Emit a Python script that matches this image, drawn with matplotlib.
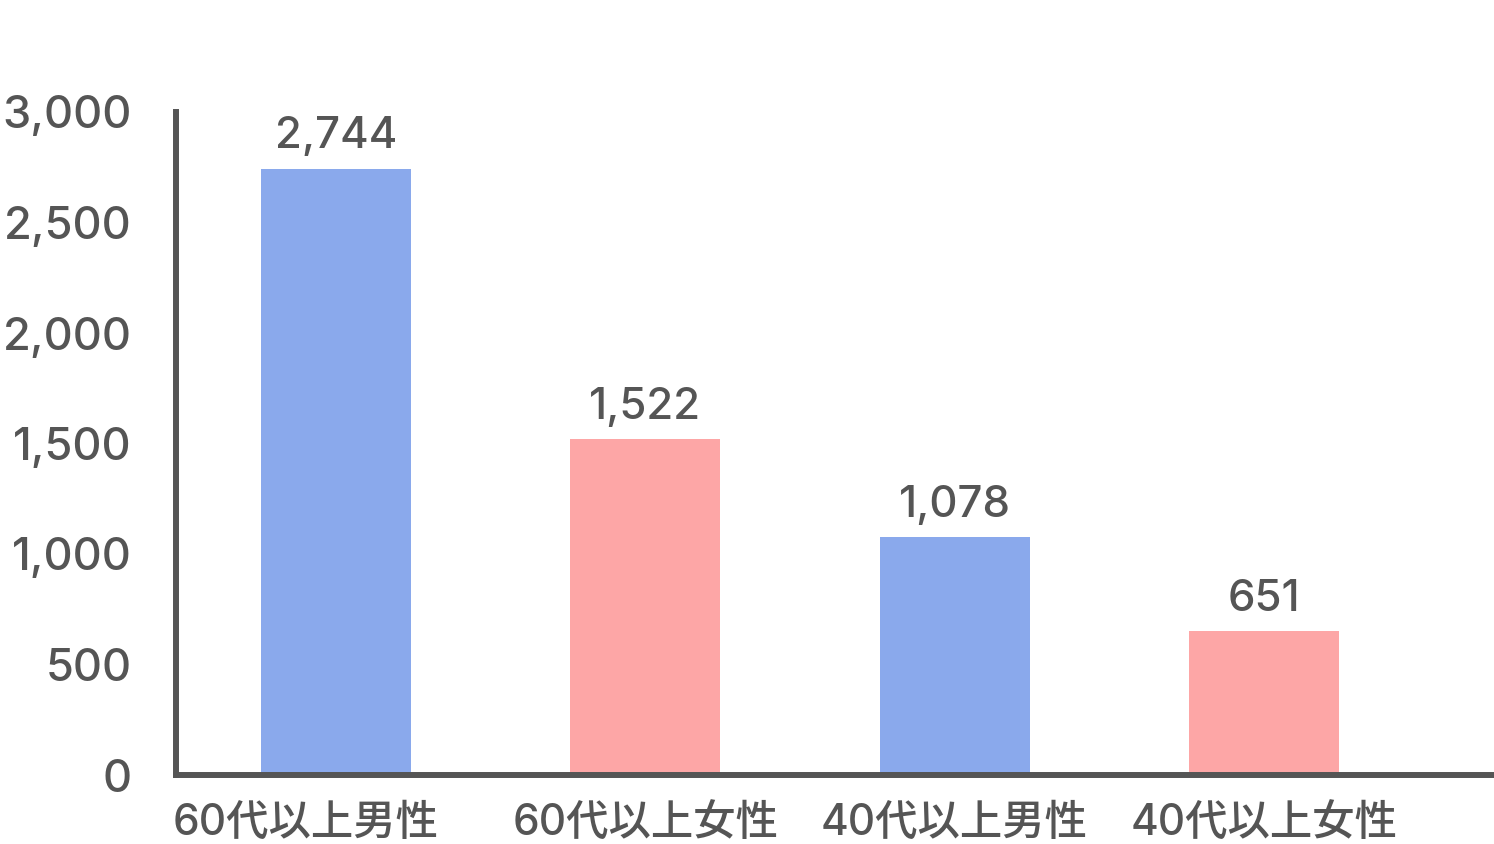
import matplotlib
matplotlib.use('Agg')
import matplotlib.pyplot as plt
from matplotlib.ticker import FuncFormatter

# wide latin digits, Japanese glyphs from the CJK family
plt.rcParams['font.family'] = ['Inter', 'Noto Sans CJK JP', 'DejaVu Sans']
plt.rcParams['font.weight'] = 'medium'

# data
categories = ['60代以上男性', '60代以上女性', '40代以上男性', '40代以上女性']
values = [2744, 1522, 1078, 651]
bar_colors = ['#8aa9ec', '#fda6a6', '#8aa9ec', '#fda6a6']
y_ticks = [0, 500, 1000, 1500, 2000, 2500, 3000]

text_color = '#555555'
dpi = 100

fig = plt.figure(figsize=(14.94, 8.44), dpi=dpi)
ax = fig.add_axes([176 / 1494, 1 - 775 / 844, 1 - 176 / 1494, (775 - 112) / 844])

x = range(len(categories))
ax.bar(x, values, width=0.485, color=bar_colors, zorder=1)

# value labels above bars
for i, v in enumerate(values):
    ax.annotate(f'{v:,}', xy=(i, v), xytext=(0, 8), textcoords='offset points',
                ha='center', va='bottom', fontsize=31.5, color=text_color)

# category labels, sitting on the bottom edge (first one nudged left like the original)
label_shift = [-30, 0, 0, 0]
for i, cat in enumerate(categories):
    ax.annotate(cat, xy=(i, 0), xycoords=('data', 'figure fraction'),
                xytext=(label_shift[i] * 72 / dpi, 0), textcoords='offset points',
                ha='center', va='bottom', fontsize=30.5, color=text_color)

ax.set_xlim(-0.517, 3.744)
ax.set_ylim(0, 3000)
ax.set_xticks([])
ax.set_yticks(y_ticks)
ax.yaxis.set_major_formatter(FuncFormatter(lambda v, p: f'{int(v):,}'))
ax.tick_params(axis='y', length=0, pad=32, labelsize=32.5, labelcolor=text_color)

for side in ['top', 'right']:
    ax.spines[side].set_visible(False)
for side in ['left', 'bottom']:
    ax.spines[side].set_color(text_color)
    ax.spines[side].set_linewidth(4.3)
    ax.spines[side].set_capstyle('projecting')

fig.savefig('out.png', dpi=dpi, facecolor='white')
